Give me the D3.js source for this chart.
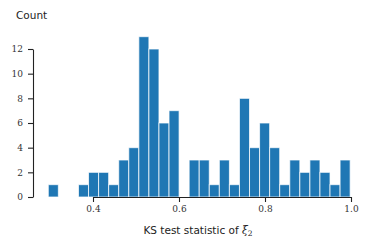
<!DOCTYPE html>
<html>
<head>
<meta charset="utf-8">
<script src="https://cdn.jsdelivr.net/npm/d3@7"></script>
<style>
body { margin: 0; background: #fff; }
</style>
</head>
<body>
<svg width="374" height="245"></svg>
<script>
// histogram of KS statistics, 30 bins
var binStart = 0.296,
    binWidth = 0.0234;
var binCounts = [1, 0, 0, 1, 2, 2, 1, 3, 4, 13, 12, 6, 7, 0, 3,
                 3, 1, 3, 1, 8, 4, 6, 4, 1, 3, 2, 3, 2, 1, 3];
var xTicks = [0.4, 0.6, 0.8, 1.0];
var yTicks = [0, 2, 4, 6, 8, 10, 12];

var svg = d3.select("svg");

var x = d3.scaleLinear().domain([0.4, 1.0]).range([93, 351]);
var y = d3.scaleLinear().domain([0, 12]).range([197, 49]);

var bins = binCounts.map(function(c, i) {
  return { x0: binStart + i * binWidth, x1: binStart + (i + 1) * binWidth, count: c };
});

svg.append("g")
  .selectAll("rect")
  .data(bins.filter(function(d) { return d.count > 0; }))
  .enter().append("rect")
    .attr("x", function(d) { return x(d.x0); })
    .attr("width", function(d) { return x(d.x1) - x(d.x0); })
    .attr("y", function(d) { return y(d.count); })
    .attr("height", function(d) { return y(0) - y(d.count); })
    .attr("fill", "#1f77b4")
    .attr("stroke", "#ffffff")
    .attr("stroke-opacity", 0.75)
    .attr("stroke-width", 1);

var xAxis = svg.append("g")
  .attr("transform", "translate(0,197)")
  .call(d3.axisBottom(x).tickValues(xTicks).tickFormat(d3.format(".1f")).tickSize(5).tickPadding(4).tickSizeOuter(0));

var yAxis = svg.append("g")
  .attr("transform", "translate(33,0)")
  .call(d3.axisLeft(y).tickValues(yTicks).tickSize(5).tickPadding(5).tickSizeOuter(0));

[xAxis, yAxis].forEach(function(a) {
  a.select(".domain").attr("stroke", "#222").attr("stroke-width", 1.1);
  a.selectAll(".tick line").attr("stroke", "#222").attr("stroke-width", 1.1);
  a.selectAll(".tick text")
    .attr("font-family", "DejaVu Serif")
    .attr("font-size", "9px")
    .attr("fill", "#333");
});

svg.append("text")
  .attr("x", 16)
  .attr("y", 19)
  .attr("font-family", "DejaVu Sans")
  .attr("font-size", "10.5px")
  .attr("fill", "#222")
  .text("Count");

var xl = svg.append("text")
  .attr("x", 198)
  .attr("y", 234)
  .attr("text-anchor", "middle")
  .attr("font-family", "DejaVu Sans")
  .attr("font-size", "10.5px")
  .attr("fill", "#222");
xl.append("tspan").text("KS test statistic of ");
xl.append("tspan").attr("font-family", "DejaVu Serif").attr("font-style", "italic").text("ξ");
xl.append("tspan").attr("font-family", "DejaVu Serif").attr("font-size", "7.5px").attr("dy", 2).text("2");
</script>
</body>
</html>
